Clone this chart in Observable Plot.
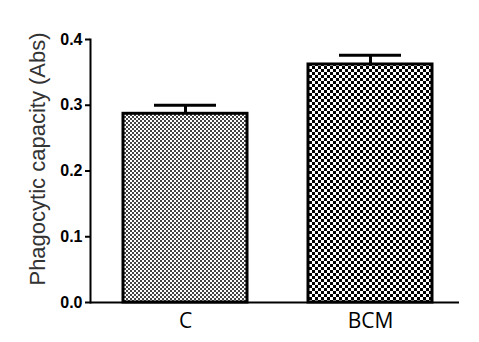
<!DOCTYPE html>
<html>
<head>
<meta charset="utf-8">
<script src="https://cdn.jsdelivr.net/npm/d3@7"></script>
<script src="https://cdn.jsdelivr.net/npm/@observablehq/plot@0.6"></script>
<style>
  html, body { margin: 0; padding: 0; background: #fff; }
  #chart svg { display: block; }
</style>
</head>
<body>
<div id="chart"></div>
<script>
// Data
const groups = ["C", "BCM"];
const means = [0.287, 0.362];
const errors = [0.013, 0.014];
const yTicks = [0, 0.1, 0.2, 0.3, 0.4];
const yLabel = "Phagocytic capacity (Abs)";

const fillFor = {C: "url(#patC)", BCM: "url(#patB)"};
const rows = groups.map((g, i) => ({group: g, mean: means[i], err: errors[i], top: means[i] + errors[i], fill: fillFor[g]}));

const chart = Plot.plot({
  width: 479,
  height: 342,
  marginLeft: 90,
  marginRight: 20,
  marginTop: 39,
  marginBottom: 40,
  style: {background: "#fff", fontFamily: "Liberation Sans, Arial, sans-serif"},
  x: {domain: groups, paddingInner: 0.328, paddingOuter: 0.156, align: 0.55, label: null},
  y: {domain: [0, 0.4], label: null},
  color: {type: "identity"},
  marks: [
    // error bars (upper only)
    Plot.ruleX(rows, {x: "group", y1: "mean", y2: "top", stroke: "#000", strokeWidth: 3}),
    Plot.tickY(rows, {x: "group", y: "top", stroke: "#000", strokeWidth: 3, insetLeft: 31, insetRight: 31}),
    Plot.barY(rows, {x: "group", y: "mean", fill: "fill", stroke: "#000", strokeWidth: 3}),
    Plot.frame({anchor: "left", stroke: "#000", strokeWidth: 2}),
    Plot.ruleY([0], {stroke: "#000", strokeWidth: 2}),
    Plot.axisY({ticks: yTicks, tickFormat: d3.format(".1f"), tickSize: 5, tickPadding: 3, fontSize: 16, fontWeight: "bold", strokeWidth: 2, label: null}),
    Plot.axisX({tickSize: 0, tickPadding: 11, fontSize: 21, fontFamily: "Open Sans, sans-serif", label: null}),
    Plot.text([yLabel], {frameAnchor: "left", text: d => d, textAnchor: "middle", rotate: -90, dx: -53, dy: -12, fontSize: 22, fill: "#333", fontFamily: "Liberation Sans, Arial, sans-serif"})
  ]
});

const svg = d3.select(chart);
const defs = svg.insert("defs", ":first-child");
const pc = defs.append("pattern").attr("id", "patC").attr("patternUnits", "userSpaceOnUse").attr("width", 4).attr("height", 4);
pc.append("rect").attr("width", 4).attr("height", 4).attr("fill", "#fff");
pc.append("rect").attr("width", 2).attr("height", 2).attr("fill", "#444");
pc.append("rect").attr("x", 2).attr("y", 2).attr("width", 2).attr("height", 2).attr("fill", "#444");
const pb = defs.append("pattern").attr("id", "patB").attr("patternUnits", "userSpaceOnUse").attr("width", 6).attr("height", 6);
pb.append("rect").attr("width", 6).attr("height", 6).attr("fill", "#fff");
pb.append("rect").attr("width", 3).attr("height", 3).attr("fill", "#000");
pb.append("rect").attr("x", 3).attr("y", 3).attr("width", 3).attr("height", 3).attr("fill", "#000");

document.getElementById("chart").appendChild(chart);
</script>
</body>
</html>
